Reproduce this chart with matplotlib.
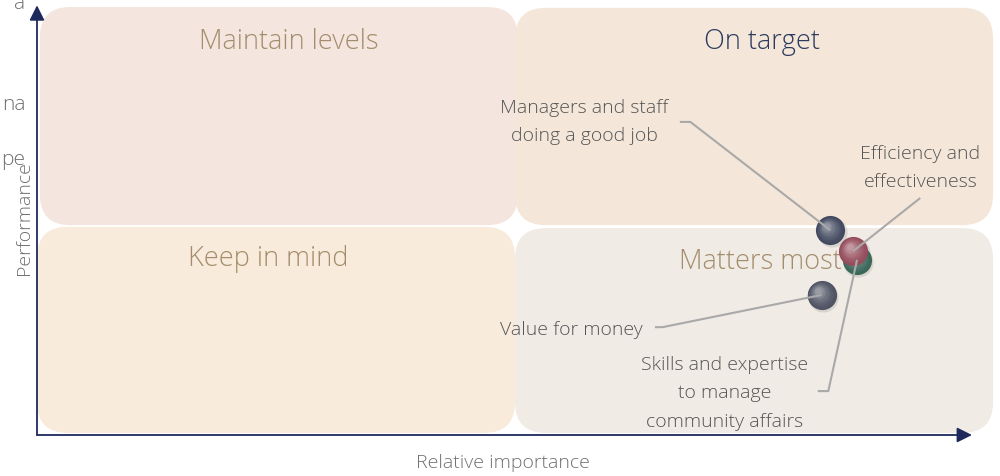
import matplotlib.pyplot as plt
from matplotlib.patches import FancyBboxPatch
from matplotlib.transforms import offset_copy
import numpy as np

plt.rcParams['font.family'] = ['Open Sans', 'DejaVu Sans']

# data: relative importance (x) vs performance (y), 0-100 scale, split at 50
labels = ['Managers and staff\ndoing a good job', 'Value for money',
          'Skills and expertise\nto manage\ncommunity affairs', 'Efficiency and\neffectiveness']
importance = [82.8, 81.9, 85.6, 85.2]
performance = [49.0, 33.5, 41.9, 44.0]
dot_colors = ['#48526f', '#5a5f75', '#3f7a68', '#b8566a']
label_pos = [(57.1, 74.9), (55.8, 25.1), (71.8, 10.0), (92.2, 63.9)]
# elbow start for leader lines (x of label side, y)
leader_start = [[(67.1, 74.9), (68.2, 74.9)],
                [(64.5, 25.8), (65.3, 25.8)],
                [(81.5, 10.5), (82.6, 10.5)],
                [(92.2, 56.7)]]

quadrants = ['Maintain levels', 'On target', 'Keep in mind', 'Matters most']
quad_colors = ['#f4e5df', '#f4e7d9', '#f9ebdb', '#f0ebe5']
quad_title_colors = ['#a38d6c', '#2c3a5e', '#a38d6c', '#a38d6c']

fig = plt.figure(figsize=(10, 4.76), dpi=100)
ax = fig.add_axes([0, 0, 1, 1])
px_x = 9.58   # pixels per x unit
px_y = 4.18   # pixels per y unit
ax.set_xlim(-37 / px_x, (1000 - 37) / px_x)
ax.set_ylim(-41 / px_y, 435 / px_y)
ax.axis('off')

# quadrant boxes
boxes = [(0.3, 50.2, 49.9, 52.2), (49.9, 50.2, 49.9, 52.0),
         (0.0, 0.5, 49.9, 49.3), (49.9, 0.5, 49.9, 49.0)]
rad = 3.2
for (bx, by, bw, bh), fc in zip(boxes, quad_colors):
    p = FancyBboxPatch((bx, by), bw, bh,
                       boxstyle=f'round,pad=0,rounding_size={rad}',
                       mutation_aspect=px_x / px_y, fc=fc, ec='none', zorder=1)
    ax.add_patch(p)

title_pos = [(26.3, 94.0), (75.7, 94.0), (24.1, 42.0), (75.5, 41.5)]
for t, (tx, ty), c in zip(quadrants, title_pos, quad_title_colors):
    ax.text(tx, ty, t, ha='center', va='center', fontsize=19.5, color=c,
            fontweight='light', zorder=2)

# axes arrows
axis_col = '#1f2a5c'
ax.annotate('', xy=(97.6, 0), xytext=(0, 0),
            arrowprops=dict(arrowstyle='-|>,head_length=0.9,head_width=0.45',
                            color=axis_col, lw=1.3, shrinkA=0, shrinkB=0), zorder=3)
ax.annotate('', xy=(0, 102.8), xytext=(0, 0),
            arrowprops=dict(arrowstyle='-|>,head_length=0.9,head_width=0.45',
                            color=axis_col, lw=1.3, shrinkA=0, shrinkB=0), zorder=3)
ax.text(48.6, -6.6, 'Relative importance', ha='center', va='center',
        fontsize=14, color='#707070', fontweight='light')
ax.text(-1.4, 52.0, 'Performance', ha='center', va='center', rotation=90,
        fontsize=14, color='#707070', fontweight='light')

# cut-off text at the left edge
for s, yy in [('a', 103.0), ('na', 78.9), ('pe', 65.9)]:
    ax.text(-1.2, yy, s, ha='right', va='center', fontsize=15,
            color='#707070', fontweight='light', clip_on=False)


def blend(c, w, f):
    c = np.array(plt.matplotlib.colors.to_rgb(c))
    w = np.array(plt.matplotlib.colors.to_rgb(w))
    return tuple(c * (1 - f) + w * f)


# spheres
n = 14
for x, y, c in zip(importance, performance, dot_colors):
    sh = offset_copy(ax.transData, fig=fig, x=1.0, y=-1.5, units='points')
    ax.scatter([x], [y], s=470, color='#000000', alpha=0.10, transform=sh,
               linewidths=0, zorder=4)
    for k in range(n):
        f = k / n
        size = 440 * (1 - 0.85 * f) ** 2
        tr = offset_copy(ax.transData, fig=fig, x=-2.8 * f, y=3.2 * f, units='points')
        col = blend(blend(c, '#000000', 0.22), '#ffffff', 0.05 + 0.45 * f ** 1.5)
        ax.scatter([x], [y], s=size, color=col, transform=tr,
                   linewidths=0, zorder=5)

# leader lines and labels
for lab, (lx, ly), pts, x, y in zip(labels, label_pos, leader_start,
                                    importance, performance):
    xs = [p[0] for p in pts] + [x]
    ys = [p[1] for p in pts] + [y]
    ax.plot(xs, ys, color='#a9a9a9', lw=1.5, zorder=6, solid_capstyle='butt')
    ax.text(lx, ly, lab, ha='center', va='center', fontsize=14,
            color='#555555', fontweight='light', linespacing=1.75, zorder=7)

fig.savefig('out.png', dpi=100)
